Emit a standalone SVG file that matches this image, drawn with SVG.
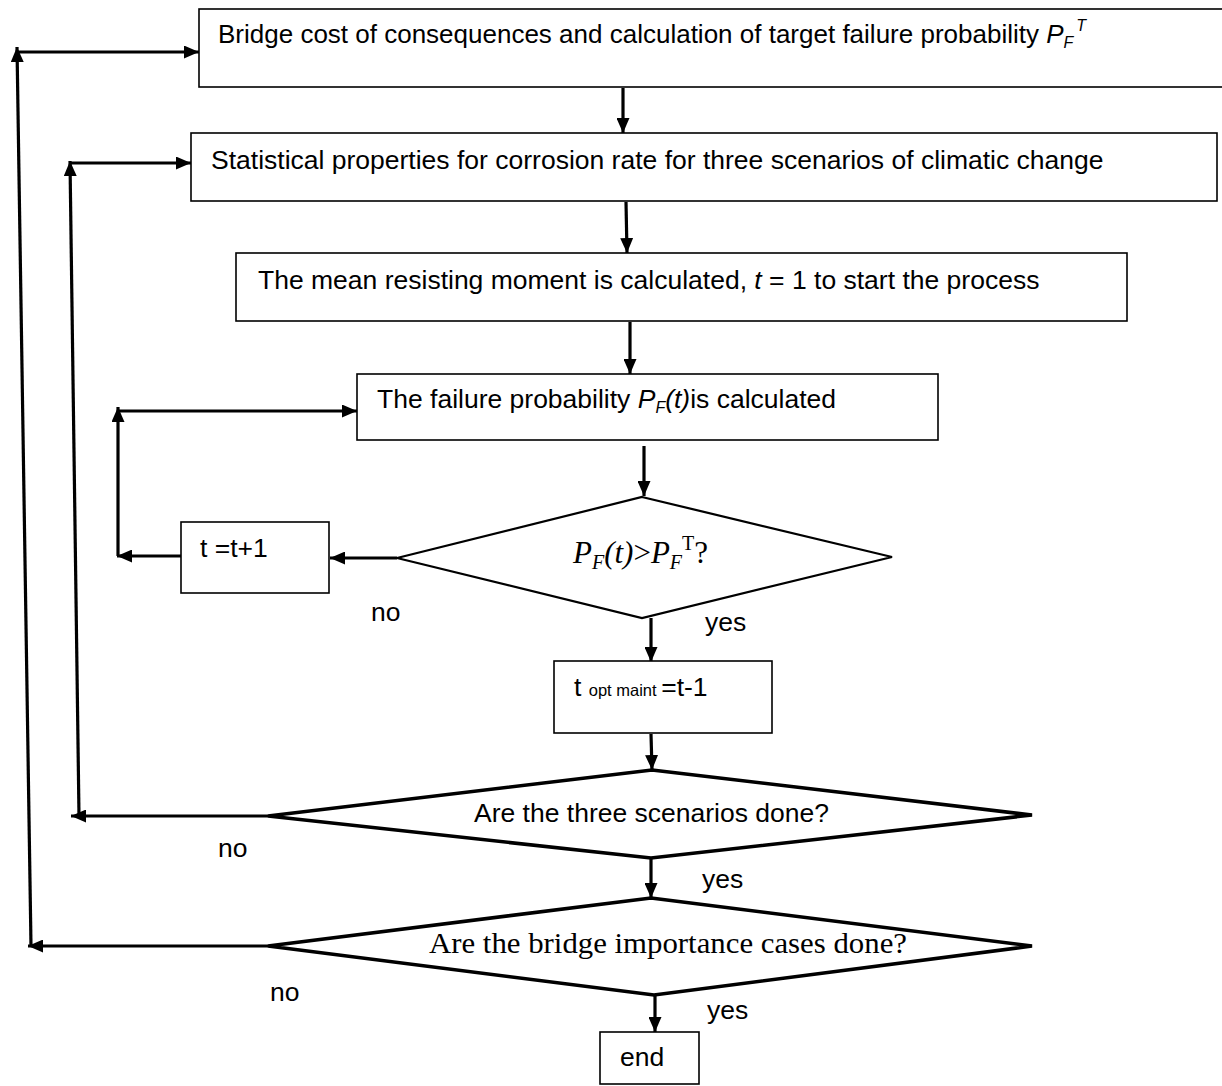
<svg xmlns="http://www.w3.org/2000/svg" width="1222" height="1086" viewBox="0 0 1222 1086">
<style>
.box{fill:#fff;stroke:#000;stroke-width:1.6}
.dia{fill:#fff;stroke:#000;stroke-width:2.2}
.dia2{fill:#fff;stroke:#000;stroke-width:3.6;stroke-linejoin:miter}
.t{font-family:"Liberation Sans",Arial,sans-serif;font-size:26.5px;fill:#000}
.s{font-family:"Liberation Serif","Times New Roman",serif;fill:#000}
.c{fill:none;stroke:#000;stroke-width:3.2}
</style>
<defs>
<marker id="ah" viewBox="0 0 15 13" refX="15" refY="6.5" markerWidth="15" markerHeight="13" markerUnits="userSpaceOnUse" orient="auto">
<path d="M0,0 L15,6.5 L0,13 Z" fill="#000"/>
</marker>
</defs>
<rect width="1222" height="1086" fill="#fff"/>

<g id="connectors">
<line class="c" x1="623" y1="88" x2="623" y2="133" marker-end="url(#ah)"/>
<line class="c" x1="626" y1="202" x2="627" y2="253" marker-end="url(#ah)"/>
<line class="c" x1="630" y1="322" x2="630" y2="374" marker-end="url(#ah)"/>
<line class="c" x1="644" y1="446" x2="644" y2="496" marker-end="url(#ah)"/>
<line class="c" x1="397" y1="558" x2="330" y2="558" marker-end="url(#ah)"/>
<line class="c" x1="181" y1="556" x2="117" y2="556" marker-end="url(#ah)"/>
<line class="c" x1="118" y1="556" x2="118" y2="407" marker-end="url(#ah)"/>
<line class="c" x1="117" y1="411" x2="357" y2="411" marker-end="url(#ah)"/>
<line class="c" x1="651" y1="618" x2="651" y2="662" marker-end="url(#ah)"/>
<line class="c" x1="651" y1="734" x2="652" y2="770" marker-end="url(#ah)"/>
<line class="c" x1="268" y1="816" x2="71" y2="816" marker-end="url(#ah)"/>
<line class="c" x1="79" y1="816" x2="70" y2="161" marker-end="url(#ah)"/>
<line class="c" x1="70" y1="163" x2="191" y2="163" marker-end="url(#ah)"/>
<line class="c" x1="651" y1="859" x2="651" y2="898" marker-end="url(#ah)"/>
<line class="c" x1="268" y1="946" x2="28" y2="946" marker-end="url(#ah)"/>
<line class="c" x1="31" y1="946" x2="17" y2="47" marker-end="url(#ah)"/>
<line class="c" x1="17" y1="52" x2="199" y2="52" marker-end="url(#ah)"/>
<line class="c" x1="655" y1="995" x2="655" y2="1032" marker-end="url(#ah)"/>
</g>

<g id="n1">
<rect class="box" x="199" y="9" width="1040" height="78"/>
<text class="t" x="218" y="43" style="font-size:26px">Bridge cost of consequences and calculation of target failure probability <tspan font-style="italic">P</tspan><tspan font-style="italic" font-size="16" dy="5">F</tspan><tspan font-style="italic" font-size="16" dx="3" dy="-17">T</tspan></text>
</g>

<g id="n2">
<rect class="box" x="191" y="133" width="1026" height="68"/>
<text class="t" x="211" y="169">Statistical properties for corrosion rate for three scenarios of climatic change</text>
</g>

<g id="n3">
<rect class="box" x="236" y="253" width="891" height="68"/>
<text class="t" x="258" y="289">The mean resisting moment is calculated, <tspan font-style="italic">t</tspan> = 1 to start the process</text>
</g>

<g id="n4">
<rect class="box" x="357" y="374" width="581" height="66"/>
<text class="t" x="377" y="408">The failure probability <tspan font-style="italic">P</tspan><tspan font-style="italic" font-size="16" dy="5">F</tspan><tspan font-style="italic" dy="-5">(t)</tspan>is calculated</text>
</g>

<g id="n5">
<polygon class="dia" points="642,497 892,557 642,618 397,558"/>
<text class="s" x="573" y="563" font-size="31"><tspan font-style="italic">P</tspan><tspan font-style="italic" font-size="20" dy="6">F</tspan><tspan font-style="italic" dy="-6">(t)</tspan>&gt;<tspan font-style="italic">P</tspan><tspan font-style="italic" font-size="20" dy="6">F</tspan><tspan font-size="20" dy="-19">T</tspan><tspan dy="13">?</tspan></text>
</g>

<g id="n6">
<rect class="box" x="181" y="522" width="148" height="71"/>
<text class="t" x="200" y="557">t =t+1</text>
</g>

<g id="n7">
<rect class="box" x="554" y="661" width="218" height="72"/>
<text class="t" x="574" y="696">t <tspan font-size="16.5">opt maint </tspan>=t-1</text>
</g>

<g id="n8">
<polygon class="dia2" points="652,770 1032,815 651,858 268,816"/>
<text class="t" x="474" y="822">Are the three scenarios done?</text>
</g>

<g id="n9">
<polygon class="dia2" points="651,898 1032,946 654,995 268,946"/>
<text class="s" x="429" y="953" font-size="30" textLength="478" lengthAdjust="spacingAndGlyphs">Are the bridge importance cases done?</text>
</g>

<g id="n10">
<rect class="box" x="600" y="1032" width="99" height="52"/>
<text class="t" x="620" y="1066">end</text>
</g>

<g id="labels">
<text class="t" x="371" y="621">no</text>
<text class="t" x="705" y="631">yes</text>
<text class="t" x="218" y="857">no</text>
<text class="t" x="702" y="888">yes</text>
<text class="t" x="270" y="1001">no</text>
<text class="t" x="707" y="1019">yes</text>
</g>
</svg>
